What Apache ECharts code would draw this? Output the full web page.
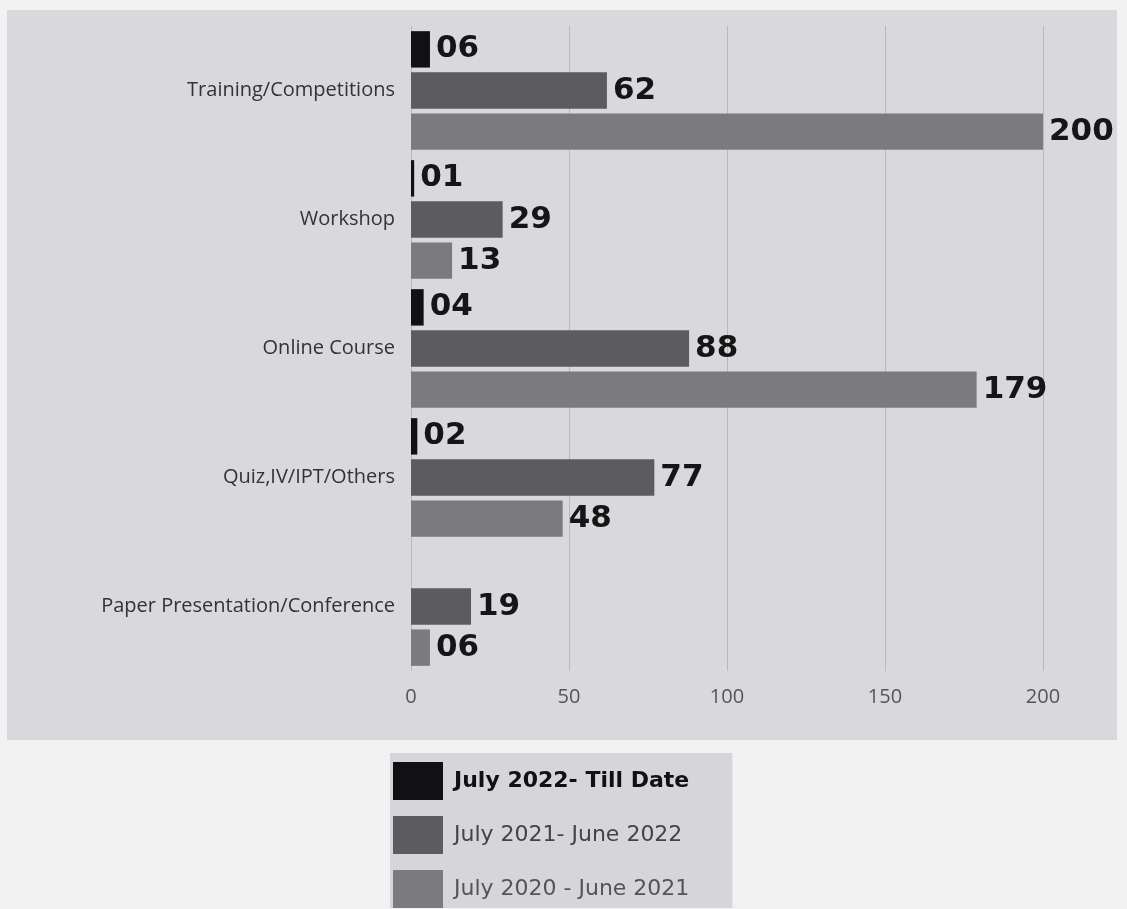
<!DOCTYPE html>
<html>
<head>
<meta charset="utf-8">
<script src="https://cdn.jsdelivr.net/npm/echarts@6/dist/echarts.min.js"></script>
<style>
html,body{margin:0;padding:0;background:#f2f2f3;}
#chart{width:1127px;height:909px;}
</style>
</head>
<body>
<div id="chart"></div>
<script>
const categories = ['Training/Competitions', 'Workshop', 'Online Course', 'Quiz,IV/IPT/Others', 'Paper Presentation/Conference'];
const seriesNames = ['July 2022- Till Date', 'July 2021- June 2022', 'July 2020 - June 2021'];
const july2022 = [6, 1, 4, 2, null];
const july2021 = [62, 29, 88, 77, 19];
const july2020 = [200, 13, 179, 48, 6];
const xTicks = [0, 50, 100, 150, 200];

const colors = ['#111113', '#5c5c60', '#7b7b7f'];
const pad = v => (v == null ? '' : (v < 10 ? '0' + v : String(v)));

const chart = echarts.init(document.getElementById('chart'));
const labelStyle = {
  show: true,
  position: 'right',
  distance: 6,
  fontFamily: 'DejaVu Sans',
  fontWeight: 'bold',
  fontSize: 31,
  color: '#151515',
  formatter: p => pad(p.value)
};
const mk = (name, data, color) => ({
  name: name,
  type: 'bar',
  data: data,
  barGap: '13%',
  barCategoryGap: '8%',
  itemStyle: { color: color },
  label: labelStyle
});

chart.setOption({
  backgroundColor: '#f2f2f3',
  animation: false,
  graphic: [
    { type: 'rect', z: -10, shape: { x: 7, y: 10, width: 1110, height: 730 }, style: { fill: '#d9d9dd' } }
  ],
  grid: { left: 411, right: 84, top: 26, bottom: 238, containLabel: false },
  xAxis: {
    type: 'value',
    min: xTicks[0],
    max: xTicks[xTicks.length - 1],
    interval: 50,
    axisLine: { show: false },
    axisTick: { show: false },
    splitLine: { show: true, lineStyle: { color: '#b9b9bd', width: 1 } },
    axisLabel: { margin: 16, fontFamily: 'Open Sans', fontSize: 20, color: '#555' }
  },
  yAxis: {
    type: 'category',
    data: categories,
    inverse: true,
    axisLine: { show: false },
    axisTick: { show: false },
    axisLabel: { margin: 16, fontFamily: 'Open Sans', fontSize: 20, color: '#333' }
  },
  legend: {
    orient: 'vertical',
    left: 390,
    top: 753,
    selectedMode: false,
    backgroundColor: '#d6d6da',
    padding: [9, 43, 0, 3],
    itemWidth: 50,
    itemHeight: 38,
    itemGap: 16,
    icon: 'rect',
    data: [
      { name: seriesNames[0], textStyle: { color: '#111', fontWeight: 'bold' } },
      { name: seriesNames[1], textStyle: { color: '#444' } },
      { name: seriesNames[2], textStyle: { color: '#555' } }
    ],
    textStyle: { fontFamily: 'DejaVu Sans', fontSize: 22, padding: [0, 0, 0, 6] }
  },
  series: [
    mk(seriesNames[0], july2022, colors[0]),
    mk(seriesNames[1], july2021, colors[1]),
    mk(seriesNames[2], july2020, colors[2])
  ]
});
</script>
</body>
</html>
